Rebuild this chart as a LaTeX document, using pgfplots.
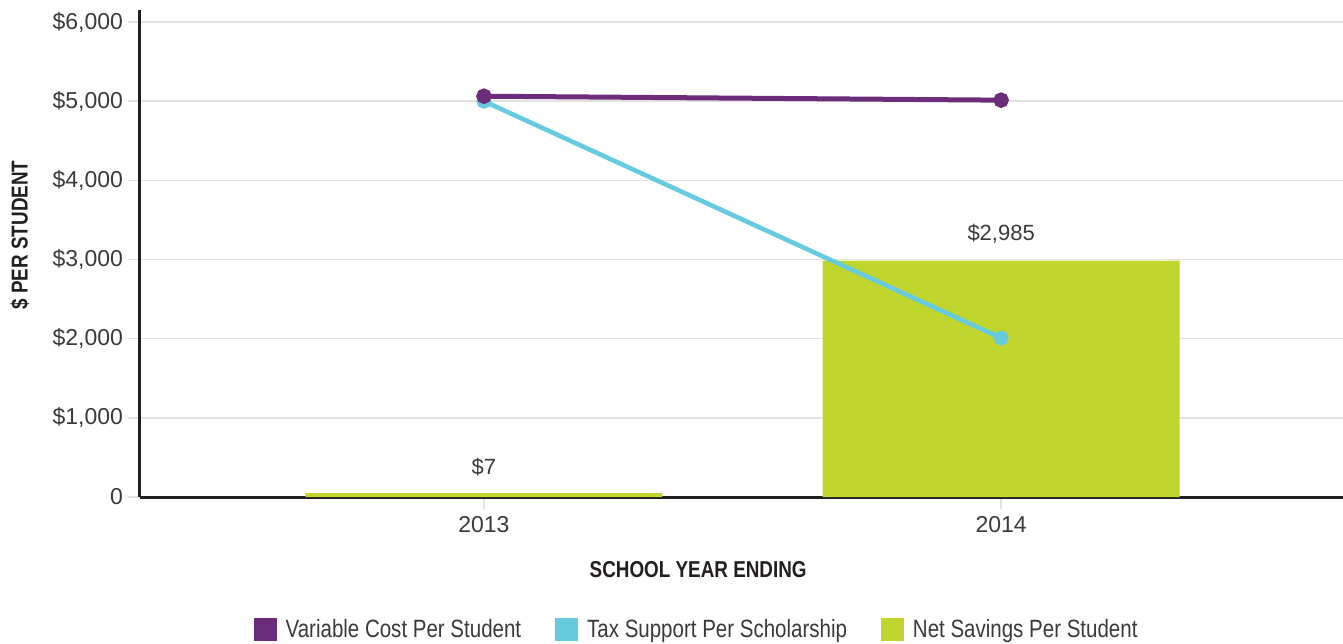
\documentclass[border=0pt]{standalone}
\usepackage{pgfplots}
\pgfplotsset{compat=1.18}
\usepackage{fontspec}
\setmainfont{Liberation Sans}
\newfontfamily\condfont[FakeStretch=0.82]{Liberation Sans}
\definecolor{cpurple}{HTML}{6B2C7A}
\definecolor{cblue}{HTML}{67CBE0}
\definecolor{cgreen}{HTML}{C0D62F}
\definecolor{caxis}{HTML}{231F20}
\definecolor{ctext}{HTML}{3A3A3A}
\definecolor{cgrid}{HTML}{E2E2E2}
\begin{document}
\begin{tikzpicture}
\begin{axis}[
  scale only axis,
  width=601.5pt, height=243.5pt,
  xmin=-0.665, xmax=1.661,
  ymin=0, ymax=6152,
  axis x line*=bottom, axis y line*=left,
  axis line style={color=caxis, line width=1.5pt},
  xtick={0,1}, xticklabels={2013,2014},
  ytick={0,1000,2000,3000,4000,5000,6000},
  yticklabels={{0},{\$1,000},{\$2,000},{\$3,000},{\$4,000},{\$5,000},{\$6,000}},
  tick align=outside,
  major tick length=6pt,
  tick style={color=cgrid, line width=0.8pt},
  ymajorgrids,
  major grid style={color=cgrid, line width=0.8pt},
  ticklabel style={font=\fontsize{11.5}{13}\selectfont, text=ctext},
  yticklabel style={xshift=1pt},
  /pgf/number format/assume math mode=true,
  xlabel={\condfont\bfseries SCHOOL YEAR ENDING},
  xlabel style={at={(axis description cs:0.464,-0.15)}, anchor=center, font=\fontsize{11.5}{13}\selectfont, text=caxis},
  ylabel={\condfont\bfseries \$ PER STUDENT},
  ylabel style={at={(axis description cs:-0.0998,0.538)}, anchor=center, rotate=0, font=\fontsize{11.5}{13}\selectfont, text=caxis},
  legend style={at={(axis description cs:0.4635,-0.273)}, anchor=center, draw=none, fill=none,
    legend columns=3, font=\condfont\fontsize{12.5}{14}\selectfont, text=ctext,
    /tikz/every odd column/.append style={column sep=2.5pt},
    /tikz/every even column/.append style={column sep=15pt}},
  legend image code/.code={\fill[#1] (0pt,-5.75pt) rectangle (11.5pt,5.75pt);},
  clip=false,
]
\addlegendimage{fill=cpurple, draw=none}
\addlegendentry{Variable Cost Per Student}
\addlegendimage{fill=cblue, draw=none}
\addlegendentry{Tax Support Per Scholarship}
\addlegendimage{fill=cgreen, draw=none}
\addlegendentry{Net Savings Per Student}

\addplot[ybar, bar width=178.5pt, fill=cgreen, draw=none, forget plot,
  nodes near coords, point meta=explicit symbolic,
  nodes near coords style={font=\fontsize{11}{12}\selectfont, text=ctext, yshift=5pt}]
  table[meta=label] {
x y label
0 50 {\$7}
1 2985 {\$2,985}
};
\addplot[color=cblue, line width=2.3pt, mark=*, mark size=2.6pt, forget plot]
  coordinates {(0,5000) (1,2008)};
\addplot[color=cpurple, line width=2.5pt, mark=*, mark size=2.6pt, forget plot]
  coordinates {(0,5063) (1,5013)};
\end{axis}
\pgfresetboundingbox
\path[use as bounding box] ([shift={(-70pt,-73pt)}]current axis.south west) rectangle ([shift={(0pt,5pt)}]current axis.north east);
\end{tikzpicture}
\end{document}
